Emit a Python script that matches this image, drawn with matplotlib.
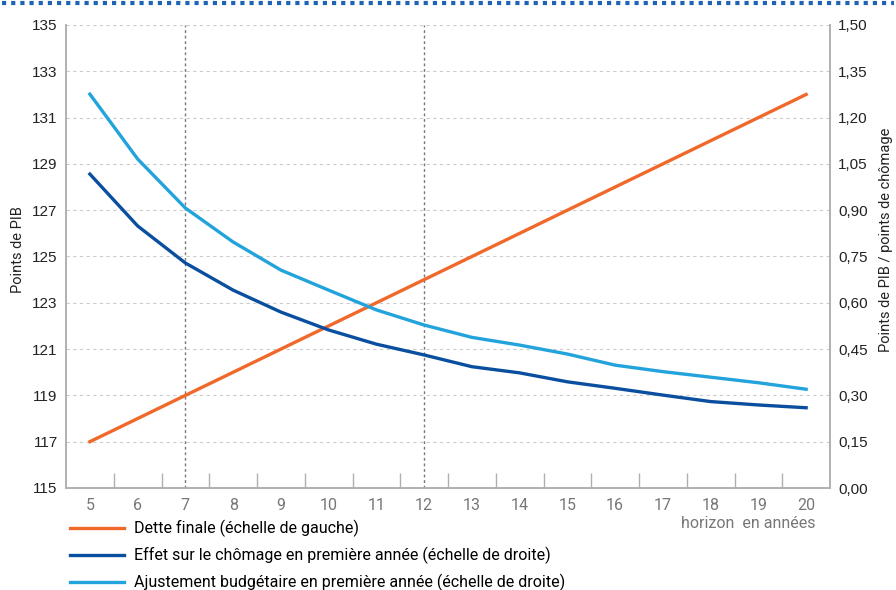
import matplotlib

matplotlib.use("Agg")

import matplotlib.pyplot as plt
from matplotlib.lines import Line2D
import numpy as np


horizon = [5, 6, 7, 8, 9, 10, 11, 12, 13, 14, 15, 16, 17, 18, 19, 20]
dette_finale = [117, 118, 119, 120, 121, 122, 123, 124, 125, 126, 127, 128, 129, 130, 131, 132]
effet_chomage = [1.017, 0.849, 0.729, 0.641, 0.570, 0.512, 0.466, 0.431,
                 0.393, 0.373, 0.344, 0.323, 0.301, 0.280, 0.269, 0.260]
ajustement = [1.276, 1.066, 0.907, 0.797, 0.706, 0.641, 0.577, 0.528,
              0.488, 0.463, 0.434, 0.398, 0.377, 0.359, 0.341, 0.320]
left_ticks = list(range(115, 136, 2))
right_ticks = [0.0, 0.15, 0.30, 0.45, 0.60, 0.75, 0.90, 1.05, 1.20, 1.35, 1.50]
markers_x = [7, 12]

labels = [
    "Dette finale (échelle de gauche)",
    "Effet sur le chômage en première année (échelle de droite)",
    "Ajustement budgétaire en première année (échelle de droite)",
]
ORANGE = "#f0692a"
DARK = "#0a4f9f"
LIGHT = "#22a3dc"
SPINE = "#b0b0b0"

plt.rcParams["font.family"] = ["Roboto", "DejaVu Sans"]

fig = plt.figure(figsize=(8.96, 5.9), dpi=100)
ax = fig.add_axes([66 / 896, 1 - 488 / 590, (830 - 66) / 896, (488 - 25) / 590])
ax2 = ax.twinx()

ax.set_xlim(4.5, 20.5)
ax.set_ylim(115, 135)
ax2.set_ylim(0, 1.5)

ax.set_yticks(left_ticks)
ax.set_yticklabels([str(t) for t in left_ticks], fontsize=11, family="Liberation Sans")
ax2.set_yticks(right_ticks)
ax2.set_yticklabels([f"{t:.2f}".replace(".", ",") for t in right_ticks],
                    fontsize=11, family="Liberation Sans")
ax.tick_params(axis="y", length=0, pad=6, colors="#222222")
ax2.tick_params(axis="y", length=0, pad=6, colors="#222222")

ax.set_xticks(horizon)
ax.set_xticklabels([str(h) for h in horizon], fontsize=11.5, color="#777777")
ax.set_xticks(np.arange(5.5, 20, 1.0), minor=True)
ax.tick_params(axis="x", which="major", length=0, pad=7)
ax.tick_params(axis="x", which="minor", direction="in", length=11, color=SPINE, width=1)

ax.grid(axis="y", linestyle=(0, (3, 3)), color="#cccccc", linewidth=0.8)
ax.set_axisbelow(True)
for x in markers_x:
    ax.axvline(x, color="#777777", linestyle=(0, (2, 2)), linewidth=1.0, zorder=1)

for a in (ax, ax2):
    a.spines["top"].set_visible(False)
    for s in ("left", "right", "bottom"):
        a.spines[s].set_color(SPINE)
        a.spines[s].set_linewidth(1.2)

l1, = ax.plot(horizon, dette_finale, color=ORANGE, linewidth=2.4, zorder=3)
l2, = ax2.plot(horizon, effet_chomage, color=DARK, linewidth=2.4, zorder=3)
l3, = ax2.plot(horizon, ajustement, color=LIGHT, linewidth=2.4, zorder=3)

fig.text(18 / 896, 1 - 250 / 590, "Points de PIB", rotation=90,
         ha="center", va="center", fontsize=10.5, color="#222222")
fig.text(886 / 896, 1 - 240 / 590, "Points de PIB / points de chômage", rotation=90,
         ha="center", va="center", fontsize=10.5, color="#222222")
fig.text(815 / 896, 1 - 523 / 590, "horizon  en années", ha="right", va="center",
         fontsize=11.5, color="#777777")

fig.legend([l1, l2, l3], labels, loc="upper left", bbox_to_anchor=(70 / 896, 1 - 520 / 590),
           frameon=False, fontsize=11.5, handlelength=3.4, handletextpad=0.6,
           labelspacing=0.6, borderpad=0, borderaxespad=0)

# dotted rule along the top edge
fig.add_artist(Line2D([0.002, 0.998], [1 - 3 / 590, 1 - 3 / 590], transform=fig.transFigure,
                      color="#1f63b5", linewidth=3, linestyle=(0, (1, 1.2))))

fig.savefig("out.png", dpi=100)
